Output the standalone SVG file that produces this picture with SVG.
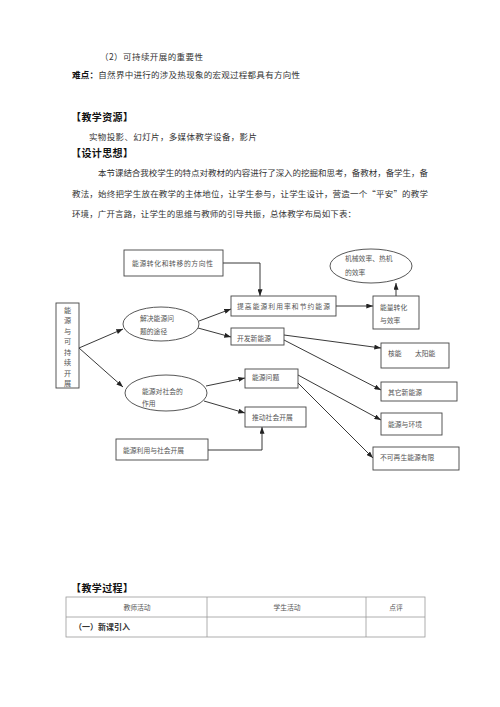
<svg xmlns="http://www.w3.org/2000/svg" width="500" height="707" viewBox="0 0 500 707">
<style>
text{font-family:"Noto Sans CJK SC","Noto Sans CJK JP",sans-serif;fill:#333}
.b{font-size:8.5px}
.h{font-size:10px;font-weight:bold;fill:#111}
.d{font-size:6.8px;fill:#555}
.v{font-size:7.2px;fill:#555;text-anchor:middle}
.box{fill:#fff;stroke:#444;stroke-width:0.9}
.c{fill:none;stroke:#222;stroke-width:0.9}
.t{fill:none;stroke:#999;stroke-width:0.8}
</style>
<defs>
<marker id="ah" viewBox="0 0 8 6" refX="8" refY="3" markerWidth="7" markerHeight="5" markerUnits="userSpaceOnUse" orient="auto"><path d="M0,0L8,3L0,6z" fill="#222"/></marker>
</defs>
<rect width="500" height="707" fill="#fff"/>
<g id="text">
<text class="b" x="100" y="60" textLength="103">（2）可持续开展的重要性</text>
<text class="b" x="72" y="78" textLength="228"><tspan font-weight="bold" fill="#111">难点：</tspan>自然界中进行的涉及热现象的宏观过程都具有方向性</text>
<text class="h" x="71" y="121" textLength="62">【教学资源】</text>
<text class="b" x="89" y="140" textLength="168">实物投影、幻灯片，多媒体教学设备，影片</text>
<text class="h" x="71" y="157" textLength="62">【设计思想】</text>
<text class="b" x="98" y="176" textLength="330">本节课结合我校学生的特点对教材的内容进行了深入的挖掘和思考，备教材，备学生，备</text>
<text class="b" x="72" y="197" textLength="356">教法，始终把学生放在教学的主体地位，让学生参与，让学生设计，营造一个“平安”的教学</text>
<text class="b" x="72" y="217" textLength="284">环境，广开言路，让学生的思维与教师的引导共振，总体教学布局如下表：</text>
</g>
<g id="connectors">
<path class="c" d="M223,263H260V296" marker-end="url(#ah)"/>
<path class="c" d="M336,306H373" marker-end="url(#ah)"/>
<path class="c" d="M396,296V283" marker-end="url(#ah)"/>
<path class="c" d="M79,348L123,329" marker-end="url(#ah)"/>
<path class="c" d="M79,348L123,387" marker-end="url(#ah)"/>
<path class="c" d="M199,321L231,309" marker-end="url(#ah)"/>
<path class="c" d="M198,328L231,337" marker-end="url(#ah)"/>
<path class="c" d="M284,335L381,348" marker-end="url(#ah)"/>
<path class="c" d="M284,340L381,390" marker-end="url(#ah)"/>
<path class="c" d="M206,386L245,378" marker-end="url(#ah)"/>
<path class="c" d="M204,401L245,413" marker-end="url(#ah)"/>
<path class="c" d="M298,375L381,420" marker-end="url(#ah)"/>
<path class="c" d="M298,383L373,458" marker-end="url(#ah)"/>
<path class="c" d="M208,450H262V427" marker-end="url(#ah)"/>
</g>
<g id="n-direction"><rect class="box" x="124" y="250" width="99" height="26"/><text class="d" x="132" y="266" textLength="81">能源转化和转移的方向性</text></g>
<g id="n-improve"><rect class="box" x="231" y="296" width="105" height="20"/><text class="d" x="237" y="308.5" textLength="93">提高能源利用率和节约能源</text></g>
<g id="n-efficiency"><rect class="box" x="373" y="296" width="46" height="33"/><text class="d" x="380" y="309.5">能量转化</text><text class="d" x="380" y="322.5">与效率</text></g>
<g id="n-machine"><ellipse class="box" cx="371" cy="266" rx="41" ry="17"/><text class="d" x="345" y="260.5">机械效率、热机</text><text class="d" x="345" y="274.5">的效率</text></g>
<g id="n-develop"><rect class="box" x="231" y="328" width="53" height="17"/><text class="d" x="237" y="340.5">开发新能源</text></g>
<g id="n-root"><rect class="box" x="56" y="303" width="23" height="85"/>
<text class="v" x="67.5" y="312.5">能</text>
<text class="v" x="67.5" y="323">源</text>
<text class="v" x="67.5" y="333.5">与</text>
<text class="v" x="67.5" y="344">可</text>
<text class="v" x="67.5" y="354.5">持</text>
<text class="v" x="67.5" y="365">续</text>
<text class="v" x="67.5" y="375.5">开</text>
<text class="v" x="67.5" y="386">展</text>
</g>
<g id="n-solve"><ellipse class="box" cx="161" cy="324" rx="38" ry="17"/><text class="d" x="140" y="320.5">解决能源问</text><text class="d" x="140" y="333.5">题的途径</text></g>
<g id="n-society"><ellipse class="box" cx="166" cy="393" rx="41" ry="18"/><text class="d" x="142" y="393.5">能源对社会的</text><text class="d" x="142" y="405.5">作用</text></g>
<g id="n-problem"><rect class="box" x="245" y="369" width="53" height="19"/><text class="d" x="252" y="380">能源问题</text></g>
<g id="n-promote"><rect class="box" x="245" y="407" width="61" height="20"/><text class="d" x="252" y="419.5">推动社会开展</text></g>
<g id="n-use"><rect class="box" x="116" y="439" width="92" height="21"/><text class="d" x="123" y="452.5">能源利用与社会开展</text></g>
<g id="n-nuclear"><rect class="box" x="381" y="343" width="68" height="25"/><text class="d" x="388" y="355.5">核能</text><text class="d" x="415" y="355.5">太阳能</text></g>
<g id="n-other"><rect class="box" x="381" y="382" width="76" height="19"/><text class="d" x="388" y="394.5">其它新能源</text></g>
<g id="n-env"><rect class="box" x="381" y="413" width="61" height="22" stroke-width="1.4"/><text class="d" x="388" y="426.5">能源与环境</text></g>
<g id="n-limited"><rect class="box" x="373" y="447" width="86" height="23"/><text class="d" x="380" y="460">不可再生能源有限</text></g>
<g id="table">
<text class="h" x="71" y="592" textLength="62">【教学过程】</text>
<rect class="t" x="66" y="597" width="359" height="40"/>
<path class="t" d="M66,617H425M207,597V637M366,597V637"/>
<text class="d" x="137" y="609.5" text-anchor="middle" font-size="7.5">教师活动</text>
<text class="d" x="287" y="609.5" text-anchor="middle" font-size="7.5">学生活动</text>
<text class="d" x="396" y="609.5" text-anchor="middle" font-size="7.5">点评</text>
<text x="74" y="630" font-size="8" font-weight="bold" fill="#222">（一）新课引入</text>
</g>
</svg>
